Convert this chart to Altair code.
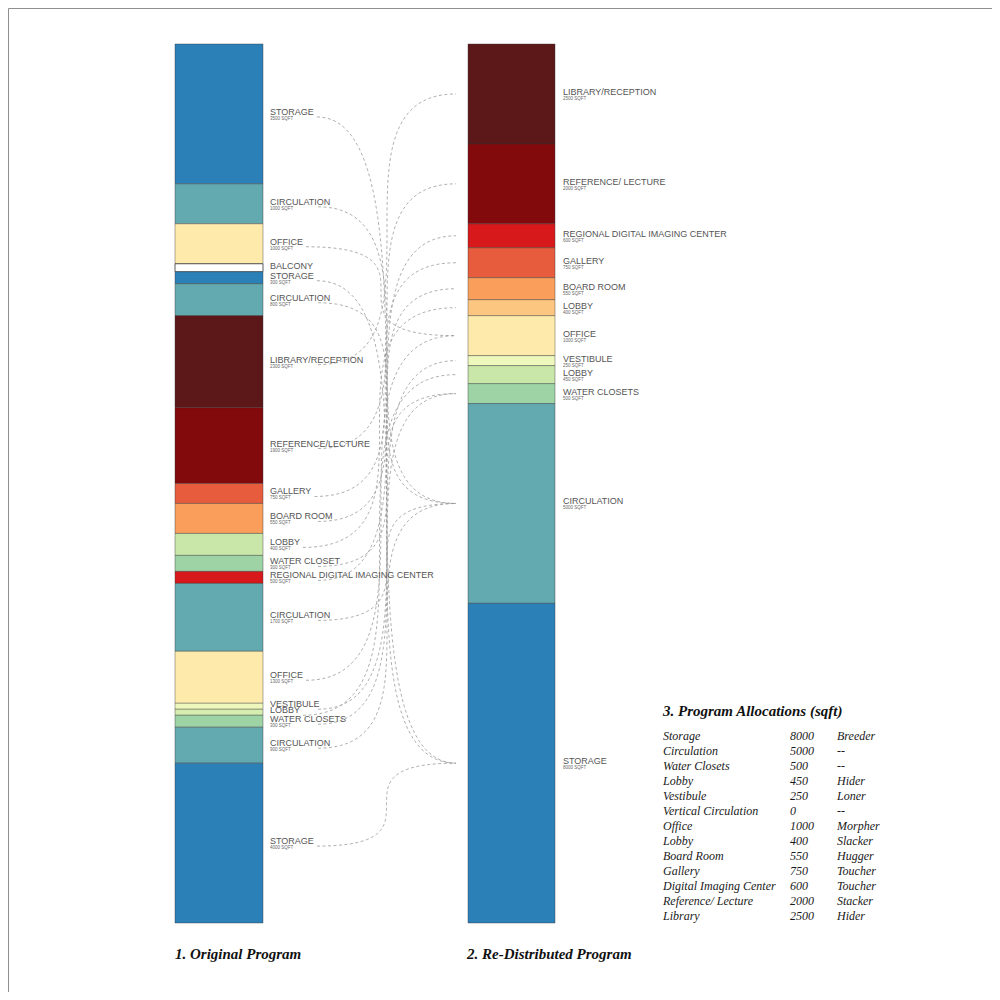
import altair as alt
import pandas as pd
import numpy as np

# ---------------- data ----------------
left_names = ["STORAGE", "CIRCULATION", "OFFICE", "BALCONY", "STORAGE", "CIRCULATION",
              "LIBRARY/RECEPTION", "REFERENCE/LECTURE", "GALLERY", "BOARD ROOM", "LOBBY",
              "WATER CLOSET", "REGIONAL DIGITAL IMAGING CENTER", "CIRCULATION", "OFFICE",
              "VESTIBULE", "LOBBY", "WATER CLOSETS", "CIRCULATION", "STORAGE"]
left_sqft = [3500, 1000, 1000, 200, 300, 800, 2300, 1900, 500, 750, 550, 400, 300,
             1700, 1300, 150, 150, 300, 900, 4000]
left_tags = ["3500 SQFT", "1000 SQFT", "1000 SQFT", "", "300 SQFT", "800 SQFT", "2300 SQFT",
             "1900 SQFT", "750 SQFT", "550 SQFT", "400 SQFT", "300 SQFT", "500 SQFT",
             "1700 SQFT", "1300 SQFT", "", "", "300 SQFT", "900 SQFT", "4000 SQFT"]
left_colors = ["#2c80b8", "#63aab0", "#feebab", "#ffffff", "#2c80b8", "#63aab0", "#5c1719",
               "#82090c", "#e65c3d", "#f99e5b", "#c9e7a9", "#9dd3a5", "#d7191c", "#63aab0",
               "#feebab", "#eef8bd", "#d6edb0", "#9dd3a5", "#63aab0", "#2c80b8"]
# index of the re-distributed room each original room flows to (None = no link)
left_targets = [11, 10, 6, None, 11, 10, 0, 1, 3, 4, 5, 9, 2, 10, 6, 7, 8, 9, 10, 11]

right_names = ["LIBRARY/RECEPTION", "REFERENCE/ LECTURE", "REGIONAL DIGITAL IMAGING CENTER",
               "GALLERY", "BOARD ROOM", "LOBBY", "OFFICE", "VESTIBULE", "LOBBY",
               "WATER CLOSETS", "CIRCULATION", "STORAGE"]
right_sqft = [2500, 2000, 600, 750, 550, 400, 1000, 250, 450, 500, 5000, 8000]
right_tags = ["2500 SQFT", "2000 SQFT", "600 SQFT", "750 SQFT", "550 SQFT", "400 SQFT",
              "1000 SQFT", "250 SQFT", "450 SQFT", "500 SQFT", "5000 SQFT", "8000 SQFT"]
right_colors = ["#5c1719", "#82090c", "#d7191c", "#e65c3d", "#f99e5b", "#fdc680", "#feebab",
                "#eef8bd", "#c9e7a9", "#9dd3a5", "#63aab0", "#2c80b8"]

table_rooms = ["Storage", "Circulation", "Water Closets", "Lobby", "Vestibule",
               "Vertical Circulation", "Office", "Lobby", "Board Room", "Gallery",
               "Digital Imaging Center", "Reference/ Lecture", "Library"]
table_sqft = ["8000", "5000", "500", "450", "250", "0", "1000", "400", "550", "750",
              "600", "2000", "2500"]
table_types = ["Breeder", "--", "--", "Hider", "Loner", "--", "Morpher", "Slacker",
               "Hugger", "Toucher", "Toucher", "Stacker", "Hider"]

panel_titles = ["1. Original Program", "2. Re-Distributed Program"]
table_title = "3. Program Allocations (sqft)"

# ---------------- layout ----------------
W = H = 984
TOP_PX, BOT_PX = 36, 915
TOTAL = sum(left_sqft)
PX_PER = (BOT_PX - TOP_PX) / TOTAL
Y_DOMAIN = [-TOP_PX / PX_PER, (H - TOP_PX) / PX_PER]

L_BAR = (167, 255)
R_BAR = (460, 547)
L_LABEL_X = 262
R_LABEL_X = 555
LINK_END_X = 448

TITLE_X = [167, 459]
TITLE_Y = 951
TABLE_X = [655, 782, 829]
TABLE_TITLE_Y = 708
TABLE_Y0 = 732
TABLE_STEP = 15

ARIAL = {"A": 667, "B": 667, "C": 722, "D": 722, "E": 667, "F": 611, "G": 778, "H": 722,
         "I": 278, "J": 500, "K": 667, "L": 556, "M": 833, "N": 722, "O": 778, "P": 667,
         "Q": 778, "R": 722, "S": 667, "T": 611, "U": 722, "V": 667, "W": 944, "X": 667,
         "Y": 667, "Z": 611, " ": 278, "/": 278}


def text_w(s, size=9):
    return sum(ARIAL.get(c, 600) for c in s) * size / 1000.0


def stack(names, sqft, tags, colors, bar, label_x, side):
    y0 = np.concatenate([[0], np.cumsum(sqft)[:-1]])
    y1 = y0 + np.array(sqft)
    return pd.DataFrame({
        "name": names, "tag": tags, "color": colors,
        "y0": y0, "y1": y1, "mid": (y0 + y1) / 2,
        "bx0": bar[0], "bx1": bar[1], "lx": label_x, "side": side,
        "sop": [1.0 if c == "#ffffff" else 0.5 for c in colors],
    })


left = stack(left_names, left_sqft, left_tags, left_colors, L_BAR, L_LABEL_X, "L")
right = stack(right_names, right_sqft, right_tags, right_colors, R_BAR, R_LABEL_X, "R")
bars = pd.concat([left, right], ignore_index=True)
tags = bars[bars["tag"] != ""]

# links (cubic curves, control points swapped for an S shape)
link_rows = []
for i, t in enumerate(left_targets):
    if t is None:
        continue
    x0 = L_LABEL_X + min(text_w(left_names[i]), 45) + 3
    y0 = left["mid"][i] + 3 / PX_PER
    x1 = LINK_END_X
    y1 = right["mid"][t]
    for k in range(81):
        s = k / 80
        b0, b1, b2, b3 = (1 - s) ** 3, 3 * (1 - s) ** 2 * s, 3 * (1 - s) * s ** 2, s ** 3
        link_rows.append({"id": i, "k": k,
                          "x": (b0 + b2) * x0 + (b1 + b3) * x1,
                          "y": (b0 + b1) * y0 + (b2 + b3) * y1})
links = pd.DataFrame(link_rows)

xs = alt.Scale(domain=[0, W], range=[0, W], nice=False, zero=False)
ys = alt.Scale(domain=Y_DOMAIN, reverse=True, nice=False, zero=False)

rects = alt.Chart(bars).mark_rect(stroke="#333333", strokeWidth=0.8).encode(
    x=alt.X("bx0:Q", scale=xs, axis=None), x2="bx1:Q",
    y=alt.Y("y0:Q", scale=ys, axis=None), y2="y1:Q",
    color=alt.Color("color:N", scale=None),
    strokeOpacity=alt.StrokeOpacity("sop:Q", scale=None),
)

lines = alt.Chart(links).mark_line(color="#9a9a9a", strokeWidth=0.8, strokeDash=[3, 2.5]).encode(
    x=alt.X("x:Q", scale=xs, axis=None),
    y=alt.Y("y:Q", scale=ys, axis=None),
    detail="id:N", order="k:Q",
)

labels = alt.Chart(bars).mark_text(align="left", baseline="alphabetic", font="Liberation Sans",
                                   fontSize=9, color="#555555", dy=1).encode(
    x=alt.X("lx:Q", scale=xs, axis=None),
    y=alt.Y("mid:Q", scale=ys, axis=None),
    text="name:N",
)

small = alt.Chart(tags).mark_text(align="left", baseline="alphabetic", font="Liberation Sans",
                                  fontSize=4.5, color="#666666", dy=6).encode(
    x=alt.X("lx:Q", scale=xs, axis=None),
    y=alt.Y("mid:Q", scale=ys, axis=None),
    text="tag:N",
)

tdf = pd.DataFrame({"t": panel_titles, "px": TITLE_X, "py": [TITLE_Y] * 2})
titles = alt.Chart(tdf).mark_text(align="left", baseline="alphabetic", font="Liberation Serif",
                                  fontSize=15, fontStyle="italic", fontWeight="bold",
                                  color="#111111").encode(
    x=alt.X("px:Q", scale=None), y=alt.Y("py:Q", scale=None), text="t:N")

ttdf = pd.DataFrame({"t": [table_title], "px": [TABLE_X[0]], "py": [TABLE_TITLE_Y]})
ttitle = alt.Chart(ttdf).mark_text(align="left", baseline="alphabetic", font="Liberation Serif",
                                   fontSize=15, fontStyle="italic", fontWeight="bold",
                                   color="#111111").encode(
    x=alt.X("px:Q", scale=None), y=alt.Y("py:Q", scale=None), text="t:N")

cells = []
for r in range(len(table_rooms)):
    for c, col in enumerate([table_rooms, table_sqft, table_types]):
        cells.append({"t": col[r], "px": TABLE_X[c], "py": TABLE_Y0 + r * TABLE_STEP})
cdf = pd.DataFrame(cells)
table = alt.Chart(cdf).mark_text(align="left", baseline="alphabetic", font="Liberation Serif",
                                 fontSize=12, fontStyle="italic", color="#1a1a1a").encode(
    x=alt.X("px:Q", scale=None), y=alt.Y("py:Q", scale=None), text="t:N")

chart = alt.layer(rects, lines, labels, small, titles, ttitle, table).properties(
    width=W, height=H, autosize=alt.AutoSizeParams(type="none"), padding=0,
    background="white",
).configure_view(stroke="#8f8f8f", strokeWidth=1)

chart.save("out.html", embed_options={"renderer": "svg", "actions": False})
